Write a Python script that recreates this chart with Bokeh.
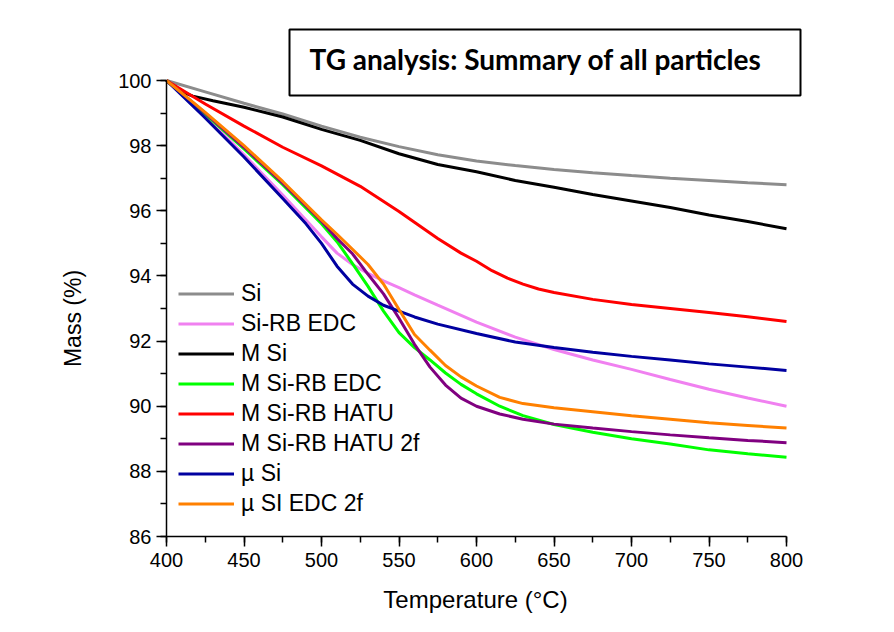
import math
from bokeh.plotting import figure
from bokeh.models import Legend, LegendItem, SingleIntervalTicker, Label, Range1d
from bokeh.embed import file_html
from bokeh.resources import INLINE

# ---------------- data ----------------
series_names = ["Si", "Si-RB EDC", "M Si", "M Si-RB EDC", "M Si-RB HATU",
                "M Si-RB HATU 2f", "\u00b5 Si", "\u00b5 SI EDC 2f"]
series_colors = ["#8c8c8c", "#f080f0", "#000000", "#00ff00", "#ff0000",
                 "#800080", "#0000a0", "#ff8000"]

t_si = [400, 425, 450, 475, 500, 525, 550, 575, 600, 625, 650, 675, 700, 725, 750, 775, 800]
m_si = [100, 99.65, 99.3, 98.97, 98.6, 98.26, 97.97, 97.72, 97.53, 97.39, 97.27, 97.17, 97.08, 97.0, 96.93, 96.86, 96.8]

t_sirb_edc = [400, 425, 450, 475, 490, 500, 510, 520, 530, 540, 550, 560, 575, 600, 625, 650, 675, 700, 725, 750, 775, 800]
m_sirb_edc = [100, 98.9, 97.72, 96.48, 95.72, 95.2, 94.7, 94.35, 94.08, 93.85, 93.64, 93.42, 93.1, 92.58, 92.12, 91.74, 91.42, 91.13, 90.82, 90.52, 90.25, 90.0]

t_msi = [400, 405, 410, 417, 430, 450, 475, 500, 525, 550, 575, 600, 625, 650, 675, 700, 725, 750, 775, 800]
m_msi = [100, 99.8, 99.65, 99.52, 99.38, 99.18, 98.88, 98.5, 98.16, 97.75, 97.42, 97.2, 96.93, 96.72, 96.5, 96.3, 96.1, 95.87, 95.67, 95.45]

t_msirb_edc = [400, 425, 450, 475, 500, 510, 520, 530, 540, 550, 560, 570, 580, 590, 600, 615, 630, 650, 675, 700, 725, 750, 775, 800]
m_msirb_edc = [100, 98.97, 97.9, 96.8, 95.6, 95.05, 94.38, 93.68, 92.92, 92.26, 91.8, 91.42, 91.02, 90.67, 90.38, 90.0, 89.71, 89.44, 89.2, 89.0, 88.84, 88.66, 88.54, 88.43]

t_msirb_hatu = [400, 425, 450, 475, 500, 525, 550, 575, 590, 600, 610, 620, 630, 640, 650, 675, 700, 725, 750, 775, 800]
m_msirb_hatu = [100, 99.28, 98.6, 97.95, 97.38, 96.75, 95.98, 95.15, 94.7, 94.45, 94.16, 93.93, 93.75, 93.6, 93.49, 93.28, 93.12, 93.0, 92.88, 92.75, 92.6]

t_msirb_hatu2f = [400, 425, 450, 475, 500, 510, 520, 530, 540, 550, 560, 570, 580, 590, 600, 615, 630, 650, 675, 700, 725, 750, 775, 800]
m_msirb_hatu2f = [100, 99.0, 97.95, 96.85, 95.68, 95.15, 94.68, 94.05, 93.45, 92.7, 91.9, 91.2, 90.65, 90.25, 90.0, 89.76, 89.6, 89.45, 89.33, 89.22, 89.12, 89.03, 88.95, 88.88]

t_usi = [400, 425, 450, 475, 490, 500, 510, 520, 530, 540, 550, 560, 575, 600, 625, 650, 675, 700, 725, 750, 775, 800]
m_usi = [100, 98.85, 97.65, 96.38, 95.6, 95.0, 94.3, 93.75, 93.38, 93.1, 92.92, 92.74, 92.52, 92.23, 91.97, 91.8, 91.66, 91.53, 91.42, 91.3, 91.2, 91.1]

t_usi_edc2f = [400, 425, 450, 475, 500, 510, 520, 530, 540, 550, 560, 570, 580, 590, 600, 615, 630, 650, 675, 700, 725, 750, 775, 800]
m_usi_edc2f = [100, 99.02, 98.0, 96.9, 95.72, 95.28, 94.82, 94.35, 93.75, 92.97, 92.2, 91.72, 91.25, 90.9, 90.62, 90.27, 90.08, 89.95, 89.83, 89.71, 89.6, 89.49, 89.41, 89.33]

series_t = [t_si, t_sirb_edc, t_msi, t_msirb_edc, t_msirb_hatu, t_msirb_hatu2f, t_usi, t_usi_edc2f]
series_m = [m_si, m_sirb_edc, m_msi, m_msirb_edc, m_msirb_hatu, m_msirb_hatu2f, m_usi, m_usi_edc2f]

title_text = "TG analysis: Summary of all particles"
x_label = "Temperature (\u00b0C)"
y_label = "Mass (%)"
x_axis_min, x_axis_max = 400, 800
y_axis_min, y_axis_max = 86, 100

# ---------------- layout (pixels) ----------------
W, H = 894, 632
AX_LEFT_PX, AX_RIGHT_PX = 166, 786     # where 400 and 800 sit
AX_TOP_PX, AX_BOTTOM_PX = 80, 536      # where 100 and 86 sit
px_per_x = (AX_RIGHT_PX - AX_LEFT_PX) / (x_axis_max - x_axis_min)
px_per_y = (AX_BOTTOM_PX - AX_TOP_PX) / (y_axis_max - y_axis_min)


def dx(px):
    return x_axis_min + (px - AX_LEFT_PX) / px_per_x


def dy(py):
    return y_axis_min + (AX_BOTTOM_PX - py) / px_per_y


FONT = "Liberation Sans"

# the frame covers the whole canvas; axes are pinned at 400 / 86
p = figure(width=W, height=H, x_range=Range1d(dx(0), dx(W)),
           y_range=Range1d(dy(H), dy(0)), output_backend="svg",
           toolbar_location=None, min_border=0)
p.outline_line_color = None
p.grid.visible = False
p.background_fill_color = "white"
p.border_fill_color = "white"

p.xaxis.fixed_location = y_axis_min
p.yaxis.fixed_location = x_axis_min
p.xaxis.bounds = (x_axis_min, x_axis_max)
p.yaxis.bounds = (y_axis_min, y_axis_max)
p.xaxis.ticker = SingleIntervalTicker(interval=50, num_minor_ticks=2)
p.yaxis.ticker = SingleIntervalTicker(interval=2, num_minor_ticks=2)
for ax in (p.xaxis, p.yaxis):
    ax.axis_line_width = 1.5
    ax.axis_line_color = "black"
    ax.major_tick_line_width = 1.5
    ax.minor_tick_line_width = 1.5
    ax.major_tick_line_color = "black"
    ax.minor_tick_line_color = "black"
    ax.major_tick_out = 10
    ax.major_tick_in = 0
    ax.minor_tick_out = 6
    ax.minor_tick_in = 0
    ax.major_label_text_font = FONT
    ax.major_label_text_font_size = "20px"
    ax.major_label_text_color = "black"
p.xaxis.major_label_standoff = 6
p.yaxis.major_label_standoff = 5

# axis titles, placed where the reference has them
p.add_layout(Label(x=dx(475), y=dy(599), text=x_label, text_font=FONT,
                   text_font_size="24px", text_color="black",
                   text_align="center", text_baseline="middle"))
p.add_layout(Label(x=dx(72.5), y=dy(318), text=y_label, text_font=FONT,
                   text_font_size="23px", text_color="black", angle=math.pi / 2,
                   text_align="center", text_baseline="middle"))

# title box
p.quad(left=dx(289), right=dx(800), top=dy(29), bottom=dy(95),
       fill_color="white", line_color="black", line_width=2)
p.add_layout(Label(x=dx(309), y=dy(58), text=title_text, text_font="Lato",
                   text_font_style="bold", text_font_size="28px",
                   text_color="black", text_baseline="middle"))

items = []
for name, col, t, m in zip(series_names, series_colors, series_t, series_m):
    r = p.line(t, m, line_color=col, line_width=3)
    items.append(LegendItem(label=name, renderers=[r]))

legend = Legend(items=items, location=(178, H - 517))
legend.border_line_color = None
legend.background_fill_alpha = 0
legend.padding = 0
legend.margin = 0
legend.spacing = 3
legend.glyph_width = 56
legend.glyph_height = 27
legend.label_height = 27
legend.label_standoff = 7
legend.label_text_font = FONT
legend.label_text_font_size = "23px"
legend.label_text_color = "black"
p.add_layout(legend)

open("out.html", "w").write(file_html(p, INLINE))
